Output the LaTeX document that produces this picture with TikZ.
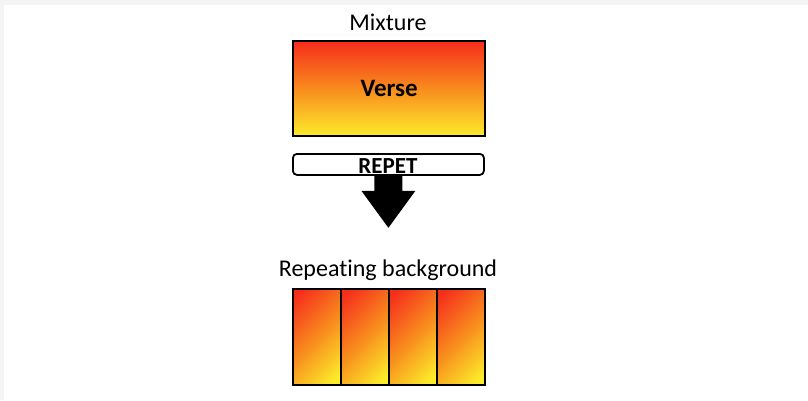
\documentclass[tikz,border=0pt]{standalone}
\usepackage{fontspec}
\setmainfont[Ligatures=NoCommon]{Carlito}
\definecolor{topred}{RGB}{246,44,28}
\definecolor{midorange}{RGB}{248,140,30}
\definecolor{botyellow}{RGB}{252,236,42}
\definecolor{bgedge}{RGB}{244,244,244}
\pgfdeclareverticalshading{diagfire}{100bp}{color(0bp)=(botyellow); color(20bp)=(botyellow); color(50bp)=(midorange); color(82bp)=(topred); color(100bp)=(topred)}
\begin{document}
\begin{tikzpicture}[x=1pt,y=-1pt,
  lbl/.style={font=\fontsize{24}{28}\selectfont, inner sep=0pt},
  blbl/.style={font=\fontsize{24}{28}\selectfont\bfseries, inner sep=0pt},
  outline/.style={draw=black, line width=2.4pt},
  vgrad/.style={top color=topred, bottom color=botyellow, middle color=midorange},
  dgrad/.style={shading=diagfire, shading angle=45}]
\useasboundingbox (0,0) rectangle (808,400);
\fill[bgedge] (0,0) rectangle (808,400);
\fill[white] (4,5) rectangle (808,400);
% top
\node[lbl] (mix) at (388,22) {Mixture};
\node[outline, vgrad, minimum width=192pt, minimum height=95pt, inner sep=0pt, anchor=north west] (verse) at (292,40) {};
\node[blbl, font=\fontsize{25}{28}\selectfont\bfseries] (versetxt) at (verse.center) {Verse};
% REPET
\node[draw=black, line width=1.8pt, rounded corners=4pt, fill=white, minimum width=191pt, minimum height=21pt, inner sep=0pt, anchor=north west] (repet) at (292,153) {};
\coordinate (ab) at (repet.south);
\fill[black] ([xshift=-14pt]ab) -- ([xshift=14pt]ab) -- ([xshift=14pt,yshift=-15pt]ab) -- ([xshift=27pt,yshift=-15pt]ab) -- ([yshift=-52pt]ab) -- ([xshift=-27pt,yshift=-15pt]ab) -- ([xshift=-14pt,yshift=-15pt]ab) -- cycle;
\node[blbl, font=\fontsize{23}{28}\selectfont\bfseries, anchor=base] (repettxt) at (388,173) {REPET};
% bottom
\node[lbl] (rep) at (388,270) {Repeating background};
\foreach \i in {0,1,2,3}{
  \node[outline, dgrad, minimum width=48pt, minimum height=96pt, inner sep=0pt, anchor=north west] (b\i) at (292+48*\i,288) {};
}
\end{tikzpicture}
\end{document}
